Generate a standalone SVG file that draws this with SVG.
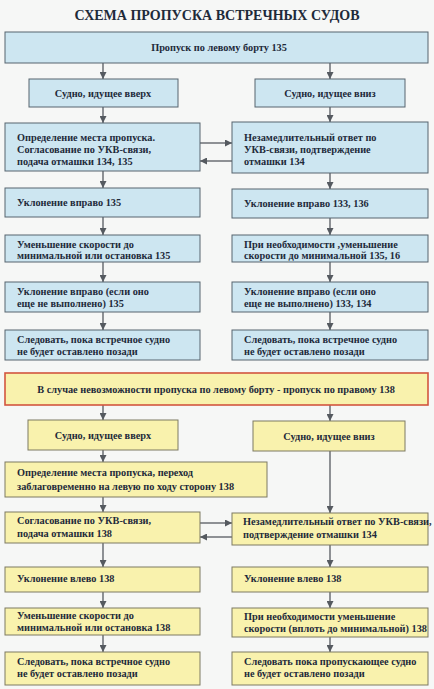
<svg xmlns="http://www.w3.org/2000/svg" width="434" height="689" viewBox="0 0 434 689">
<defs>
<style>
.bg{fill:#f6f7f6}
.b{fill:#cde6f1;stroke:#56646e;stroke-width:1}
.y{fill:#f9f2ad;stroke:#7d7a62;stroke-width:1}
.yr{fill:#f9f2ad;stroke:#d2553f;stroke-width:1.6}
.t{font-family:'Liberation Serif','DejaVu Serif','Times New Roman',serif;font-weight:bold;font-size:10.3px;fill:#1e2a3a}
.c{text-anchor:middle}
.title{font-family:'Liberation Serif','DejaVu Serif','Times New Roman',serif;font-weight:bold;font-size:14px;fill:#1e2a3a;text-anchor:middle}
.ln{stroke:#555a60;stroke-width:1.3;fill:none;marker-end:url(#ah)}
</style>
<marker id="ah" viewBox="0 0 10 10" refX="10" refY="5" markerWidth="7" markerHeight="7" orient="auto" markerUnits="userSpaceOnUse">
<path d="M0,0 L10,5 L0,10 z" fill="#555a60"/>
</marker>
</defs>
<rect class="bg" x="0" y="0" width="434" height="689"/>
<text class="title" x="217" y="20">СХЕМА ПРОПУСКА ВСТРЕЧНЫХ СУДОВ</text>

<g id="connectors">
<line class="ln" x1="103" y1="63" x2="103" y2="79"/>
<line class="ln" x1="330" y1="63" x2="330" y2="79"/>
<line class="ln" x1="103" y1="107" x2="103" y2="123"/>
<line class="ln" x1="330" y1="107" x2="330" y2="122"/>
<line class="ln" x1="200" y1="143" x2="232" y2="143"/>
<line class="ln" x1="232" y1="161" x2="200" y2="161"/>
<line class="ln" x1="103" y1="171" x2="103" y2="188"/>
<line class="ln" x1="330" y1="173" x2="330" y2="189"/>
<line class="ln" x1="103" y1="217" x2="103" y2="235"/>
<line class="ln" x1="330" y1="218" x2="330" y2="235"/>
<line class="ln" x1="103" y1="262" x2="103" y2="282"/>
<line class="ln" x1="330" y1="262" x2="330" y2="282"/>
<line class="ln" x1="103" y1="312" x2="103" y2="330"/>
<line class="ln" x1="330" y1="312" x2="330" y2="330"/>
<line class="ln" x1="103" y1="405" x2="103" y2="420"/>
<line class="ln" x1="330" y1="405" x2="330" y2="421"/>
<line class="ln" x1="103" y1="450" x2="103" y2="462"/>
<line class="ln" x1="330" y1="451" x2="330" y2="513"/>
<line class="ln" x1="103" y1="497" x2="103" y2="512"/>
<line class="ln" x1="200" y1="523" x2="232" y2="523"/>
<line class="ln" x1="232" y1="537" x2="200" y2="537"/>
<line class="ln" x1="103" y1="543" x2="103" y2="567"/>
<line class="ln" x1="330" y1="545" x2="330" y2="567"/>
<line class="ln" x1="103" y1="592" x2="103" y2="608"/>
<line class="ln" x1="330" y1="592" x2="330" y2="608"/>
<line class="ln" x1="103" y1="635" x2="103" y2="652"/>
<line class="ln" x1="330" y1="637" x2="330" y2="652"/>
</g>

<g id="n1"><rect class="b" x="5" y="32" width="423" height="31"/><text class="t c" x="219" y="51">Пропуск по левому борту   135</text></g>
<g id="n2"><rect class="b" x="29" y="79" width="149" height="28"/><text class="t c" x="103" y="97">Судно, идущее вверх</text></g>
<g id="n3"><rect class="b" x="255" y="79" width="150" height="28"/><text class="t c" x="330" y="97">Судно, идущее вниз</text></g>
<g id="n4"><rect class="b" x="5" y="123" width="195" height="48"/><text class="t" x="17" y="141">Определение места пропуска.</text><text class="t" x="17" y="153">Согласование по УКВ-связи,</text><text class="t" x="17" y="165">подача отмашки 134, 135</text></g>
<g id="n5"><rect class="b" x="232" y="122" width="196" height="51"/><text class="t" x="244" y="141">Незамедлительный ответ по</text><text class="t" x="244" y="153">УКВ-связи, подтверждение</text><text class="t" x="244" y="165">отмашки 134</text></g>
<g id="n6"><rect class="b" x="5" y="188" width="195" height="29"/><text class="t" x="17" y="206">Уклонение вправо 135</text></g>
<g id="n7"><rect class="b" x="232" y="189" width="196" height="29"/><text class="t" x="244" y="207">Уклонение вправо 133, 136</text></g>
<g id="n8"><rect class="b" x="5" y="235" width="195" height="27"/><text class="t" x="17" y="248">Уменьшение скорости до</text><text class="t" x="17" y="259">минимальной или остановка 135</text></g>
<g id="n9"><rect class="b" x="232" y="235" width="196" height="27"/><text class="t" x="244" y="248">При необходимости ,уменьшение</text><text class="t" x="244" y="259">скорости до минимальной 135, 16</text></g>
<g id="n10"><rect class="b" x="5" y="282" width="195" height="30"/><text class="t" x="17" y="295">Уклонение вправо (если оно</text><text class="t" x="17" y="307">еще не выполнено) 135</text></g>
<g id="n11"><rect class="b" x="232" y="282" width="196" height="30"/><text class="t" x="244" y="295">Уклонение вправо (если оно</text><text class="t" x="244" y="307">еще не выполнено) 133, 134</text></g>
<g id="n12"><rect class="b" x="5" y="330" width="195" height="30"/><text class="t" x="17" y="343">Следовать, пока встречное судно</text><text class="t" x="17" y="355">не будет оставлено позади</text></g>
<g id="n13"><rect class="b" x="232" y="330" width="196" height="30"/><text class="t" x="244" y="343">Следовать, пока встречное судно</text><text class="t" x="244" y="355">не будет оставлено позади</text></g>

<g id="n14"><rect class="yr" x="5" y="373" width="423" height="32"/><text class="t c" x="216" y="393">В случае невозможности пропуска по левому борту - пропуск по правому  138</text></g>
<g id="n15"><rect class="y" x="28" y="420" width="150" height="30"/><text class="t c" x="103" y="439">Судно, идущее вверх</text></g>
<g id="n16"><rect class="y" x="253" y="421" width="152" height="30"/><text class="t c" x="329" y="440">Судно, идущее вниз</text></g>
<g id="n17"><rect class="y" x="5" y="462" width="262" height="35"/><text class="t" x="17" y="476">Определение места пропуска, переход</text><text class="t" x="17" y="490">заблаговременно на левую по ходу сторону 138</text></g>
<g id="n18"><rect class="y" x="5" y="512" width="195" height="31"/><text class="t" x="17" y="524">Согласование по УКВ-связи,</text><text class="t" x="17" y="537">подача отмашки 138</text></g>
<g id="n19"><rect class="y" x="232" y="513" width="196" height="32"/><text class="t" x="243" y="525">Незамедлительный ответ по УКВ-связи,</text><text class="t" x="243" y="538">подтверждение отмашки 134</text></g>
<g id="n20"><rect class="y" x="5" y="567" width="195" height="25"/><text class="t" x="17" y="582">Уклонение влево 138</text></g>
<g id="n21"><rect class="y" x="232" y="567" width="196" height="25"/><text class="t" x="244" y="582">Уклонение влево 138</text></g>
<g id="n22"><rect class="y" x="5" y="608" width="195" height="27"/><text class="t" x="17" y="619">Уменьшение скорости до</text><text class="t" x="17" y="631">минимальной или остановка  138</text></g>
<g id="n23"><rect class="y" x="232" y="608" width="196" height="29"/><text class="t" x="244" y="620">При необходимости уменьшение</text><text class="t" x="244" y="632">скорости (вплоть до минимальной) 138</text></g>
<g id="n24"><rect class="y" x="5" y="652" width="195" height="33"/><text class="t" x="17" y="665">Следовать, пока встречное судно</text><text class="t" x="17" y="677">не будет оставлено позади</text></g>
<g id="n25"><rect class="y" x="232" y="652" width="196" height="33"/><text class="t" x="244" y="665">Следовать пока пропускающее судно</text><text class="t" x="244" y="677">не будет оставлено позади</text></g>
</svg>
